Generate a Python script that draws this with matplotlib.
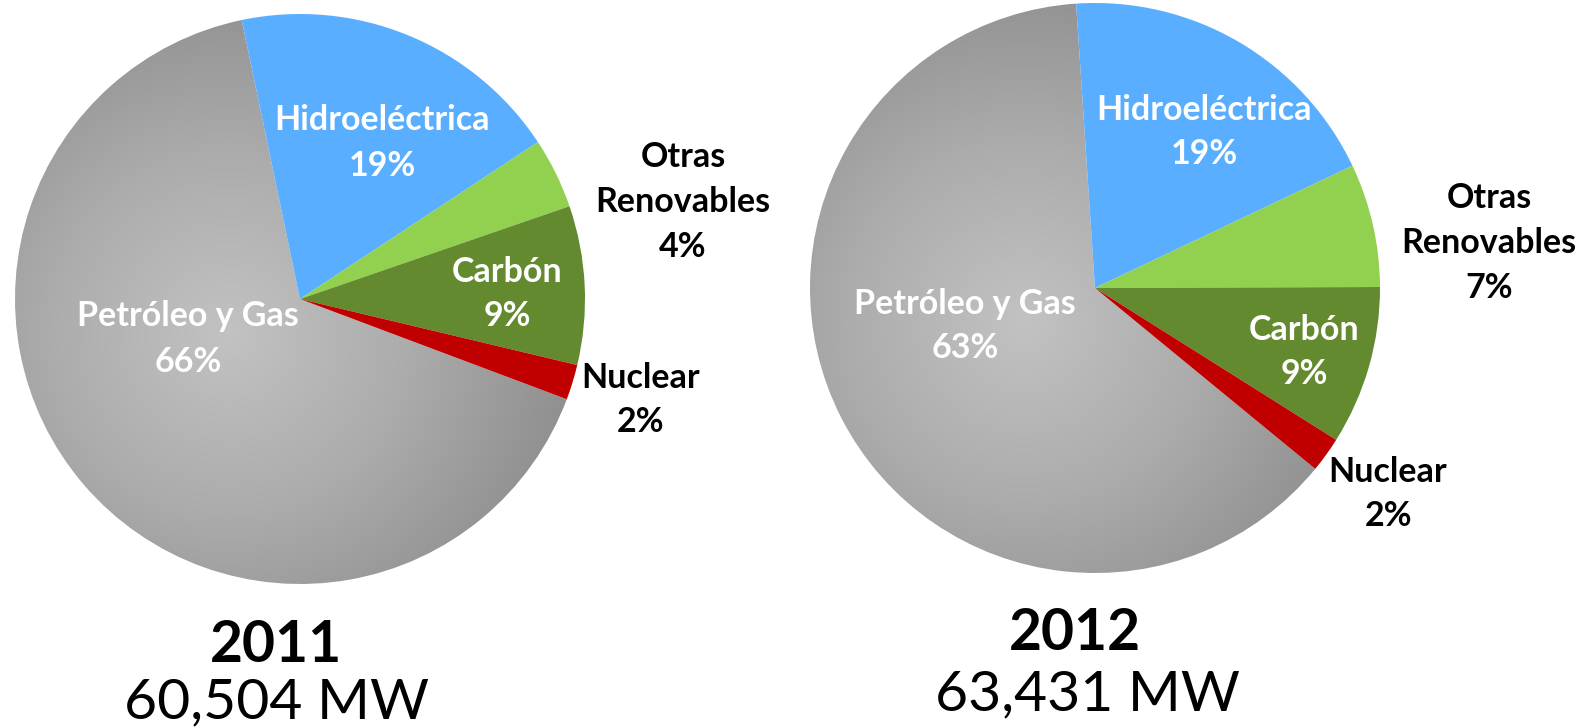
import numpy as np
import matplotlib.pyplot as plt
from matplotlib.colors import LinearSegmentedColormap

# data
labels = ["Hidroeléctrica", "Otras\nRenovables", "Carbón", "Nuclear", "Petróleo y Gas"]
share_2011 = [19, 4, 9, 2, 66]
share_2012 = [19, 7, 9, 2, 63]
years = ["2011", "2012"]
capacity = ["60,504 MW", "63,431 MW"]

colors = ["#5aaeff", "#92d050", "#648a30", "#c00000", "#b0b0b0"]
gray_map = LinearSegmentedColormap.from_list("g", ["#c2c2c2", "#acacac", "#8e8e8e"])

W, H = 1584, 728
fig = plt.figure(figsize=(W / 100, H / 100), dpi=100)
ax = fig.add_axes([0, 0, 1, 1])
ax.set_xlim(0, W)
ax.set_ylim(0, H)
ax.set_aspect("equal")
ax.axis("off")

plt.rcParams["font.family"] = ["Lato", "DejaVu Sans"]

R = 285
pies = [
    dict(vals=share_2011, cx=300, cy=299, start=101.8,
         inside={0: (382, 143), 2: (507, 294), 4: (188, 339)},
         outside={1: (683, 202), 3: (641, 400)},
         year=(276, 645), cap=(276, 703)),
    dict(vals=share_2012, cx=1095, cy=288, start=93.8,
         inside={0: (1204, 132), 2: (1304, 352), 4: (965, 326)},
         outside={1: (1489, 243), 3: (1388, 494)},
         year=(1075, 634), cap=(1087, 695)),
]

# radial gradient image for the gray slice
n = 400
gy, gx = np.mgrid[-1:1:n * 1j, -1:1:n * 1j]

for i, p in enumerate(pies):
    cx, cy = p["cx"], H - p["cy"]
    wedges, _ = ax.pie(p["vals"], colors=colors, startangle=p["start"],
                       counterclock=False, center=(cx, cy), radius=R,
                       wedgeprops=dict(linewidth=0), frame=True)
    gw = wedges[-1]
    gw.set_facecolor("none")
    d = np.sqrt((gx + 0.25) ** 2 + (gy + 0.12) ** 2)
    im = ax.imshow(d, cmap=gray_map, vmin=0, vmax=1.25, origin="lower",
                   extent=(cx - R, cx + R, cy - R, cy + R), zorder=0.5,
                   interpolation="bilinear")
    im.set_clip_path(gw)

    for k, (x, y) in p["inside"].items():
        ax.text(x, H - y, "%s\n%d%%" % (labels[k], p["vals"][k]), color="white",
                fontsize=24.5, fontweight="bold", ha="center", va="center",
                linespacing=1.5)
    for k, (x, y) in p["outside"].items():
        ax.text(x, H - y, "%s\n%d%%" % (labels[k], p["vals"][k]), color="black",
                fontsize=24.5, fontweight="bold", ha="center", va="center",
                linespacing=1.5)

    ax.text(p["year"][0], H - p["year"][1], years[i], fontsize=41,
            fontweight="bold", ha="center", va="center")
    ax.text(p["cap"][0], H - p["cap"][1], capacity[i], fontsize=41,
            ha="center", va="center")

ax.set_xlim(0, W)
ax.set_ylim(0, H)
ax.axis("off")
fig.savefig("out.png", dpi=100)
